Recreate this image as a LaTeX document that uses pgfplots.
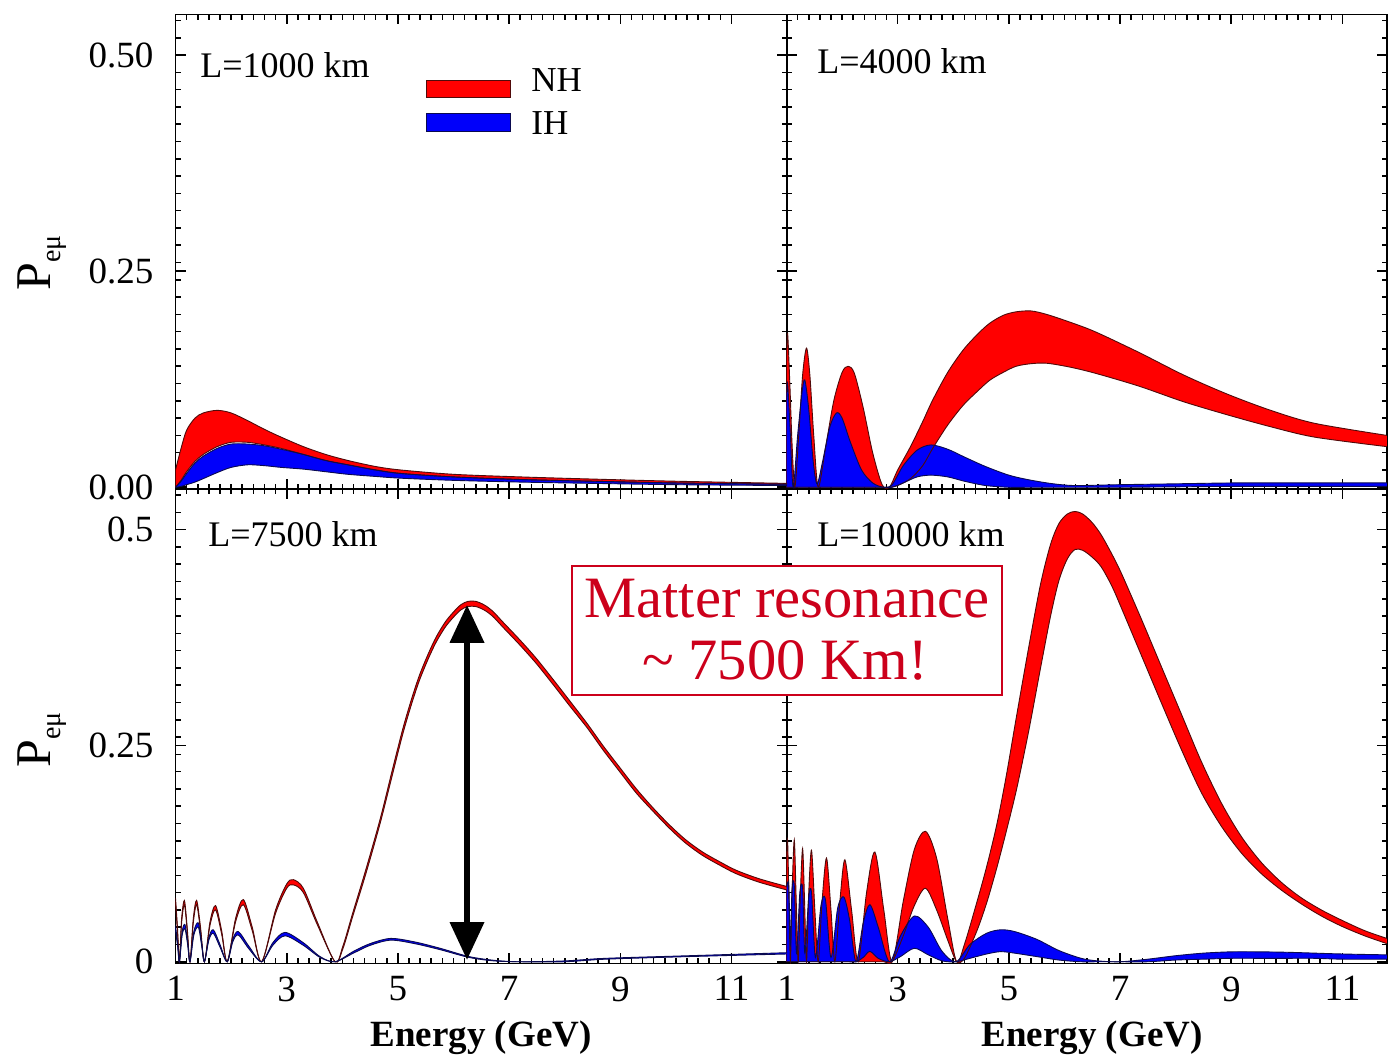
\documentclass[border=0pt]{standalone}
\usepackage{pgfplots}
\pgfplotsset{compat=1.18}
\usepackage{pgfplotstable}
\usepgfplotslibrary{fillbetween}
\usetikzlibrary{arrows.meta}
\usepackage{fontspec}
\setmainfont{Liberation Serif}

\definecolor{bandred}{RGB}{255,0,0}
\definecolor{edgered}{RGB}{80,10,10}
\definecolor{bandblue}{RGB}{0,0,250}
\definecolor{edgeblue}{RGB}{10,10,80}
\definecolor{notered}{RGB}{204,0,27}

% ---------------- data: band limits (E in GeV, upper u, lower l) ----------------
% L = 1000 km
\pgfplotstableread[row sep=\\]{
E u l\\
1.00 0.020 0.000\\
1.10 0.045 0.008\\
1.20 0.066 0.018\\
1.35 0.080 0.030\\
1.50 0.086 0.038\\
1.75 0.089 0.047\\
2.00 0.086 0.052\\
2.30 0.077 0.052\\
2.60 0.067 0.049\\
2.90 0.058 0.045\\
3.30 0.047 0.038\\
3.70 0.038 0.031\\
4.10 0.031 0.026\\
4.60 0.024 0.020\\
5.05 0.020 0.016\\
6.00 0.015 0.012\\
7.20 0.012 0.009\\
8.50 0.0095 0.007\\
10.00 0.007 0.005\\
12.00 0.0045 0.0035\\
}\tabAr
\pgfplotstableread[row sep=\\]{
E u l\\
1.00 0.000 0.000\\
1.10 0.007 0.001\\
1.20 0.016 0.003\\
1.35 0.028 0.006\\
1.50 0.036 0.010\\
1.75 0.045 0.017\\
2.00 0.050 0.023\\
2.30 0.050 0.026\\
2.60 0.048 0.025\\
2.90 0.044 0.023\\
3.30 0.038 0.021\\
3.70 0.031 0.018\\
4.10 0.026 0.015\\
4.60 0.020 0.0125\\
5.05 0.016 0.0105\\
6.00 0.012 0.008\\
7.20 0.009 0.006\\
8.50 0.007 0.0045\\
10.00 0.005 0.003\\
12.00 0.0035 0.002\\
}\tabAb
% L = 4000 km
\pgfplotstableread[row sep=\\]{
E u l\\
1.00 0.150 0.0\\
1.02 0.178 0.0\\
1.06 0.120 0.0\\
1.10 0.050 0.0\\
1.15 0.000 0.0\\
1.22 0.060 0.0\\
1.29 0.130 0.0\\
1.36 0.161 0.0\\
1.42 0.130 0.0\\
1.49 0.060 0.0\\
1.57 0.000 0.0\\
1.70 0.045 0.0\\
1.85 0.100 0.0\\
2.00 0.133 0.0\\
2.11 0.140 0.0\\
2.22 0.132 0.0\\
2.38 0.092 0.0\\
2.55 0.040 0.0\\
2.72 0.003 0.0\\
2.85 0.000 0.0\\
3.00 0.020 0.002\\
3.23 0.047 0.010\\
3.45 0.076 0.025\\
3.63 0.101 0.045\\
3.90 0.133 0.072\\
4.18 0.159 0.095\\
4.45 0.178 0.112\\
4.66 0.190 0.124\\
4.90 0.199 0.133\\
5.13 0.203 0.140\\
5.40 0.204 0.143\\
5.68 0.200 0.1435\\
6.10 0.191 0.139\\
6.55 0.180 0.132\\
7.34 0.156 0.117\\
8.14 0.130 0.099\\
8.92 0.108 0.084\\
9.71 0.089 0.070\\
10.50 0.074 0.058\\
11.80 0.060 0.047\\
}\tabBr
\pgfplotstableread[row sep=\\]{
E u l\\
1.00 0.100 0\\
1.02 0.120 0\\
1.07 0.060 0\\
1.12 0.000 0\\
1.20 0.060 0\\
1.28 0.110 0\\
1.33 0.124 0\\
1.40 0.090 0\\
1.48 0.030 0\\
1.55 0.004 0\\
1.65 0.030 0\\
1.78 0.070 0\\
1.90 0.086 0\\
2.00 0.080 0\\
2.15 0.052 0\\
2.35 0.020 0\\
2.55 0.005 0\\
2.75 0.000 0\\
2.90 0.003 0\\
3.10 0.025 0.005\\
3.35 0.043 0.012\\
3.60 0.049 0.014\\
3.90 0.044 0.012\\
4.20 0.035 0.007\\
4.58 0.024 0.002\\
5.00 0.014 0.000\\
5.37 0.0085 0.0\\
5.80 0.004 0.0\\
6.20 0.002 0.0\\
7.00 0.003 0.0\\
8.00 0.004 0.0005\\
9.00 0.005 0.001\\
10.00 0.005 0.001\\
11.00 0.005 0.001\\
11.80 0.005 0.001\\
}\tabBb
% L = 7500 km
\pgfplotstableread[row sep=\\]{
E u l\\
1.00 0.074 0.068\\
1.035 0.040 0.035\\
1.07 0.000 0.000\\
1.11 0.050 0.045\\
1.16 0.071 0.066\\
1.21 0.040 0.036\\
1.26 0.000 0.000\\
1.32 0.050 0.045\\
1.38 0.071 0.066\\
1.45 0.040 0.036\\
1.52 0.000 0.000\\
1.62 0.046 0.042\\
1.72 0.065 0.060\\
1.83 0.036 0.032\\
1.93 0.000 0.000\\
2.08 0.050 0.046\\
2.22 0.072 0.066\\
2.38 0.040 0.036\\
2.55 0.000 0.000\\
2.80 0.060 0.056\\
3.00 0.090 0.085\\
3.12 0.095 0.089\\
3.30 0.085 0.080\\
3.55 0.046 0.043\\
3.87 0.000 0.000\\
4.01 0.018 0.015\\
4.19 0.057 0.053\\
4.42 0.106 0.101\\
4.68 0.165 0.160\\
4.90 0.222 0.216\\
5.09 0.270 0.264\\
5.25 0.305 0.299\\
5.39 0.332 0.326\\
5.55 0.357 0.351\\
5.69 0.376 0.370\\
5.85 0.393 0.387\\
5.99 0.404 0.398\\
6.13 0.413 0.407\\
6.26 0.417 0.411\\
6.40 0.417 0.411\\
6.55 0.413 0.407\\
6.70 0.406 0.400\\
6.89 0.393 0.387\\
7.20 0.372 0.366\\
7.49 0.351 0.345\\
7.80 0.326 0.320\\
8.09 0.302 0.296\\
8.40 0.276 0.271\\
8.69 0.250 0.245\\
9.00 0.224 0.219\\
9.29 0.200 0.195\\
9.59 0.178 0.174\\
9.89 0.158 0.154\\
10.18 0.141 0.137\\
10.48 0.127 0.123\\
10.78 0.116 0.112\\
11.08 0.106 0.102\\
11.50 0.096 0.092\\
12.00 0.087 0.083\\
}\tabCr
\pgfplotstableread[row sep=\\]{
E u l\\
1.00 0.042 0.036\\
1.04 0.020 0.017\\
1.07 0.000 0.000\\
1.12 0.035 0.031\\
1.17 0.043 0.038\\
1.22 0.022 0.019\\
1.26 0.000 0.000\\
1.33 0.035 0.031\\
1.41 0.045 0.040\\
1.47 0.022 0.019\\
1.52 0.000 0.000\\
1.60 0.028 0.025\\
1.68 0.037 0.033\\
1.80 0.020 0.017\\
1.93 0.000 0.000\\
2.03 0.026 0.023\\
2.13 0.035 0.031\\
2.32 0.018 0.015\\
2.55 0.000 0.000\\
2.75 0.022 0.019\\
2.97 0.034 0.030\\
3.30 0.022 0.019\\
3.60 0.006 0.005\\
3.87 0.000 0.000\\
4.20 0.012 0.010\\
4.50 0.021 0.019\\
4.87 0.027 0.025\\
5.30 0.023 0.021\\
5.76 0.0156 0.014\\
6.28 0.006 0.005\\
6.73 0.0017 0.001\\
7.20 0.000 0.000\\
8.00 0.001 0.000\\
8.74 0.004 0.003\\
10.23 0.007 0.006\\
12.00 0.0105 0.009\\
}\tabCb
% L = 10000 km
\pgfplotstableread[row sep=\\]{
E u l\\
1.00 0.120 0\\
1.02 0.140 0\\
1.045 0.070 0\\
1.07 0.000 0\\
1.10 0.080 0\\
1.14 0.141 0\\
1.175 0.070 0\\
1.21 0.000 0\\
1.25 0.080 0\\
1.29 0.131 0\\
1.325 0.070 0\\
1.36 0.000 0\\
1.40 0.080 0\\
1.45 0.129 0\\
1.51 0.060 0\\
1.57 0.000 0\\
1.64 0.070 0\\
1.72 0.120 0\\
1.80 0.060 0\\
1.87 0.000 0\\
1.96 0.070 0\\
2.05 0.118 0\\
2.17 0.060 0\\
2.29 0.000 0\\
2.44 0.080 0\\
2.59 0.127 0\\
2.75 0.060 0\\
2.90 0.000 0\\
3.10 0.070 0.030\\
3.30 0.130 0.065\\
3.50 0.151 0.085\\
3.70 0.120 0.060\\
3.90 0.050 0.025\\
4.06 0.000 0.000\\
4.20 0.020 0.004\\
4.42 0.068 0.035\\
4.60 0.110 0.068\\
4.78 0.158 0.108\\
4.95 0.214 0.150\\
5.14 0.285 0.200\\
5.36 0.365 0.268\\
5.57 0.437 0.340\\
5.75 0.483 0.400\\
5.90 0.507 0.441\\
6.05 0.518 0.466\\
6.19 0.521 0.477\\
6.33 0.518 0.476\\
6.50 0.508 0.468\\
6.66 0.494 0.457\\
6.85 0.472 0.435\\
7.02 0.450 0.410\\
7.38 0.397 0.355\\
7.74 0.342 0.300\\
8.10 0.287 0.246\\
8.46 0.232 0.196\\
8.82 0.184 0.157\\
9.18 0.145 0.126\\
9.54 0.115 0.102\\
9.90 0.092 0.083\\
10.26 0.074 0.067\\
10.62 0.060 0.053\\
10.99 0.048 0.041\\
11.40 0.036 0.030\\
11.80 0.027 0.021\\
}\tabDr
\pgfplotstableread[row sep=\\]{
E u l\\
1.00 0.085 0\\
1.04 0.090 0\\
1.07 0.020 0\\
1.10 0.085 0\\
1.14 0.088 0\\
1.18 0.010 0\\
1.24 0.080 0\\
1.29 0.085 0\\
1.33 0.010 0\\
1.40 0.075 0\\
1.45 0.080 0\\
1.52 0.005 0\\
1.62 0.065 0\\
1.70 0.072 0\\
1.80 0.005 0\\
1.92 0.062 0\\
2.03 0.075 0\\
2.13 0.050 0\\
2.25 0.000 0\\
2.38 0.045 0.005\\
2.50 0.066 0.012\\
2.65 0.040 0.004\\
2.85 0.000 0\\
3.05 0.030 0.006\\
3.30 0.053 0.0156\\
3.55 0.040 0.008\\
3.80 0.012 0.001\\
4.05 0.000 0\\
4.30 0.020 0.004\\
4.60 0.033 0.009\\
4.85 0.037 0.0117\\
5.10 0.035 0.010\\
5.50 0.026 0.006\\
5.90 0.013 0.002\\
6.30 0.004 0\\
6.60 0.001 0\\
7.00 0.000 0\\
7.50 0.003 0.000\\
8.00 0.007 0.002\\
8.50 0.010 0.003\\
9.00 0.0115 0.004\\
9.50 0.0115 0.004\\
10.00 0.011 0.004\\
10.50 0.010 0.004\\
11.00 0.009 0.003\\
11.80 0.008 0.003\\
}\tabDb

% a filled band between the u and l columns of a table, with dark edges
\newcommand{\band}[4]{%
  \addplot[name path=#4u, draw=none, smooth] table[x=E,y=u]{#1};
  \addplot[name path=#4l, draw=none, smooth] table[x=E,y=l]{#1};
  \addplot[fill=#2, draw=none] fill between[of=#4u and #4l];
  \addplot[#3, line width=0.45pt, smooth] table[x=E,y=u]{#1};
  \addplot[#3, line width=0.45pt, smooth] table[x=E,y=l]{#1};
}

\newcommand{\ticksz}{\fontsize{18.5}{18.5}\selectfont}
\newcommand{\labsz}{\fontsize{18}{18}\selectfont}

\pgfplotsset{
  panel/.style={
    scale only axis, height=237.25pt,
    xmin=1, ymin=-0.002, ymax=0.547,
    xtick={1,3,5,7,9,11}, minor x tick num=9,
    ytick={0,0.25,0.5}, minor ytick={0,0.02,...,0.54},
    tick align=inside, major tick length=5pt, minor tick length=2.6pt,
    axis line style={line width=0.9pt},
    tick style={black, line width=0.8pt},
    tick label style={font=\ticksz},
    xticklabel style={yshift=-3pt},
    yticklabel style={xshift=-7.5pt},
    /pgf/number format/assume math mode=true,
    anchor=south west,
  },
}

\begin{document}
\begin{tikzpicture}

% L = 1000 km
\begin{axis}[panel, at={(87.75pt,283.5pt)}, width=305.8pt, xmax=12,
  xticklabels={}, yticklabels={0.00,0.25,0.50}]
  \band{\tabAr}{bandred}{edgered}{ar}
  \band{\tabAb}{bandblue}{edgeblue}{ab}
\end{axis}

% L = 4000 km
\begin{axis}[panel, at={(393.25pt,283.5pt)}, width=300.2pt, xmax=11.8,
  xticklabels={}, yticklabels={}]
  \band{\tabBr}{bandred}{edgered}{br}
  \band{\tabBb}{bandblue}{edgeblue}{bb}
\end{axis}

% L = 7500 km
\begin{axis}[panel, at={(87.75pt,46.25pt)}, width=305.8pt, xmax=12,
  xticklabels={1,3,5,7,9,11}, yticklabels={0,0.25,0.5}]
  \band{\tabCr}{bandred}{edgered}{cr}
  \band{\tabCb}{bandblue}{edgeblue}{cb}
  \draw[line width=3.4pt, {Triangle[width=16.5pt,length=19pt]}-{Triangle[width=16.5pt,length=19pt]}]
    (axis cs:6.243,0.002) -- (axis cs:6.243,0.413);
\end{axis}

% L = 10000 km
\begin{axis}[panel, at={(393.25pt,46.25pt)}, width=300.2pt, xmax=11.8,
  xticklabels={1,3,5,7,9,11}, yticklabels={}]
  \band{\tabDr}{bandred}{edgered}{dr}
  \band{\tabDb}{bandblue}{edgeblue}{db}
\end{axis}

% panel labels
\node[anchor=base west, inner sep=0, font=\labsz] at (100pt,489pt) {L=1000 km};
\node[anchor=base west, inner sep=0, font=\labsz] at (408.5pt,491pt) {L=4000 km};
\node[anchor=base west, inner sep=0, font=\labsz] at (104pt,254.5pt) {L=7500 km};
\node[anchor=base west, inner sep=0, font=\labsz] at (408.5pt,254.5pt) {L=10000 km};

% legend
\filldraw[fill=bandred, draw=edgered, line width=0.5pt] (213pt,479pt) rectangle (255pt,487.5pt);
\filldraw[fill=bandblue, draw=edgeblue, line width=0.5pt] (213pt,462pt) rectangle (255pt,471pt);
\node[anchor=base west, inner sep=0, font=\fontsize{17.5}{17.5}\selectfont] at (265.5pt,482.25pt) {NH};
\node[anchor=base west, inner sep=0, font=\fontsize{17.5}{17.5}\selectfont] at (265.5pt,460.75pt) {IH};

% axis titles
\node[rotate=90, anchor=base, inner sep=0] at (25pt,396.5pt)
  {\fontsize{25}{25}\selectfont P\raisebox{-0.45ex}{\fontsize{14}{14}\selectfont eμ}};
\node[rotate=90, anchor=base, inner sep=0] at (25pt,158pt)
  {\fontsize{25}{25}\selectfont P\raisebox{-0.45ex}{\fontsize{14}{14}\selectfont eμ}};
\node[anchor=base, inner sep=0, font=\bfseries\fontsize{18.5}{18.5}\selectfont] at (240.5pt,4.65pt) {Energy (GeV)};
\node[anchor=base, inner sep=0, font=\bfseries\fontsize{18.5}{18.5}\selectfont] at (546pt,4.65pt) {Energy (GeV)};

% annotation
\filldraw[fill=white, draw=notered, line width=0.6pt] (286pt,180.5pt) rectangle (501pt,245pt);
\node[anchor=base, inner sep=0, text=notered, font=\fontsize{29.3}{29.3}\selectfont] at (393.5pt,219pt) {Matter resonance};
\node[anchor=base, inner sep=0, text=notered, font=\fontsize{29.3}{29.3}\selectfont] at (392.5pt,188pt) {\textasciitilde{} 7500 Km!};

% page frame
\path (0,0) rectangle (694pt,528pt);
\end{tikzpicture}
\end{document}
